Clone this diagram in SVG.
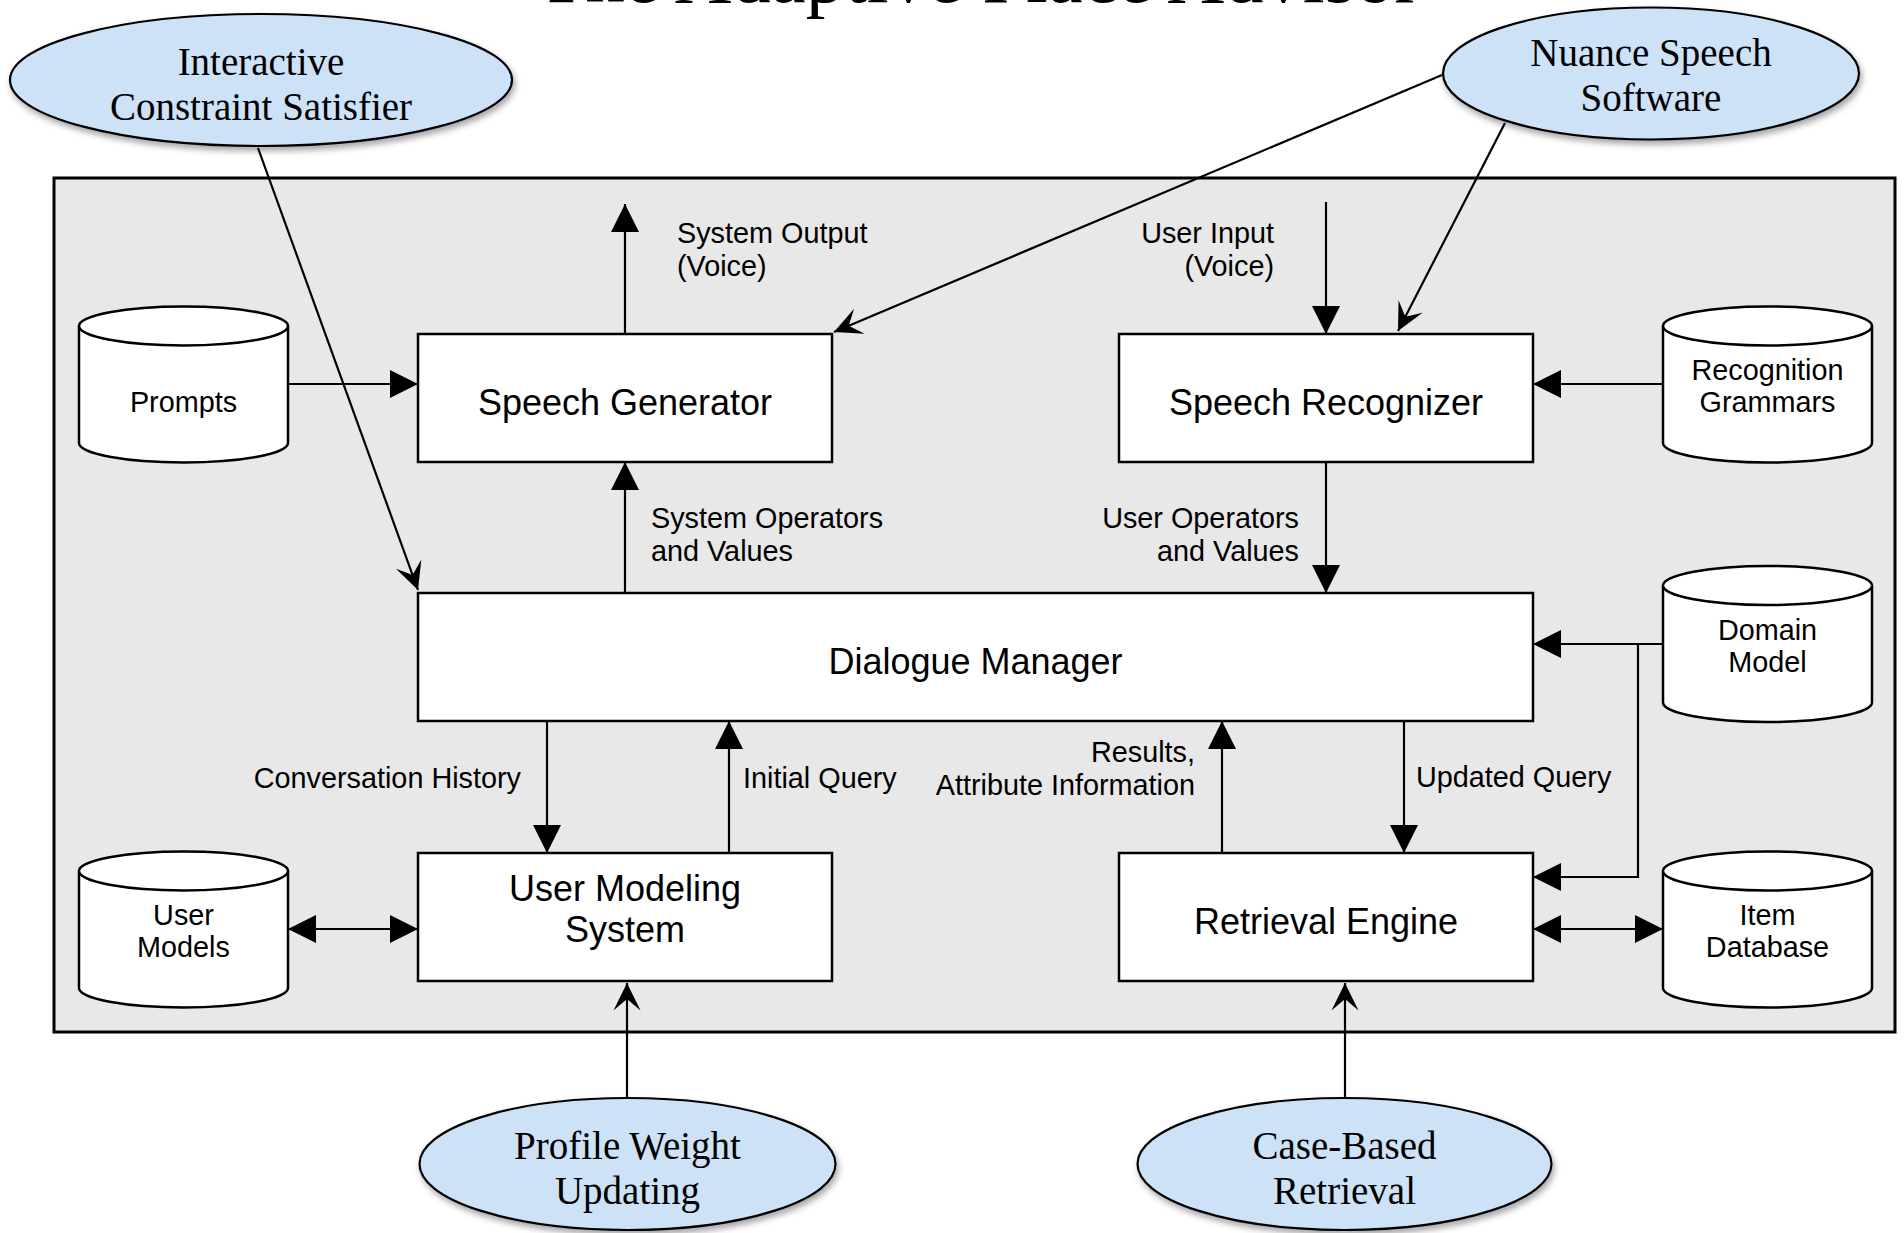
<svg xmlns="http://www.w3.org/2000/svg" width="1904" height="1233" viewBox="0 0 1904 1233">
<defs>
<style>
.box{fill:#ffffff;stroke:#000;stroke-width:2.5}
.cyl{fill:#ffffff;stroke:#000;stroke-width:2.5}
.ell{fill:#cde1f7;stroke:#000;stroke-width:2.2}
.frame{fill:#e8e8e8;stroke:#000;stroke-width:3}
.lbl{font-family:"Liberation Sans",Arial,sans-serif;font-size:28.8px;fill:#000}
.big{font-family:"Liberation Sans",Arial,sans-serif;font-size:36px;fill:#000;text-anchor:middle}
.ser{font-family:"Liberation Serif","Times New Roman",serif;font-size:39px;fill:#000;text-anchor:middle}
.mid{text-anchor:middle}
.end{text-anchor:end}
.con{fill:none;stroke:#000;stroke-width:2.2}
.fa{marker-end:url(#fill)}
.fb{marker-start:url(#fill);marker-end:url(#fill)}
.st{marker-end:url(#stealth)}
</style>
<marker id="fill" viewBox="-28 -14 28 28" refX="0" refY="0" markerWidth="28" markerHeight="28" markerUnits="userSpaceOnUse" orient="auto-start-reverse">
<path d="M0,0 L-28,-14 L-28,14 Z" fill="#000"/>
</marker>
<marker id="stealth" viewBox="-30 -15 31 30" refX="0" refY="0" markerWidth="31" markerHeight="30" markerUnits="userSpaceOnUse" orient="auto">
<path d="M0,0 L-27.5,-13.5 L-16,0 L-27.5,13.5 Z" fill="#000"/>
</marker>
<filter id="sh" x="-10%" y="-10%" width="125%" height="135%">
<feDropShadow dx="2" dy="4" stdDeviation="3" flood-color="#000" flood-opacity="0.35"/>
</filter>
</defs>
<rect width="1904" height="1233" fill="#ffffff"/>
<text x="979" y="2" font-family="Liberation Serif, Times New Roman, serif" font-size="78.5" text-anchor="middle" fill="#000">The Adaptive Place Advisor</text>
<rect id="frame" class="frame" x="54" y="178" width="1841" height="854"/>

<g id="connectors">
<path class="con fa" d="M625,334 V204"/>
<path class="con fa" d="M288,384 H418"/>
<path class="con fa" d="M625,593 V462"/>
<path class="con st" d="M258,148 L418,590"/>
<path class="con st" d="M1442,75 L834,332"/>
<path class="con st" d="M1505,123 L1398,331"/>
<path class="con fa" d="M1326,202 V334"/>
<path class="con fa" d="M1326,462 V593"/>
<path class="con fa" d="M1663,384 H1533"/>
<path class="con fa" d="M1663,644 H1533"/>
<path class="con fa" d="M1638,644 V877 H1533"/>
<path class="con fa" d="M547,721 V853"/>
<path class="con fa" d="M729,853 V721"/>
<path class="con fb" d="M288,929 H418"/>
<path class="con fa" d="M1222,853 V721"/>
<path class="con fa" d="M1404,721 V853"/>
<path class="con fb" d="M1533,929 H1663"/>
<path class="con st" d="M627,1098 V983"/>
<path class="con st" d="M1345,1098 V983"/>
</g>

<g id="labels">
<text class="lbl" x="677" y="243">System Output</text>
<text class="lbl" x="677" y="276">(Voice)</text>
<text class="lbl end" x="1274" y="243">User Input</text>
<text class="lbl end" x="1274" y="276">(Voice)</text>
<text class="lbl" x="651" y="528">System Operators</text>
<text class="lbl" x="651" y="561">and Values</text>
<text class="lbl end" x="1299" y="528">User Operators</text>
<text class="lbl end" x="1299" y="561">and Values</text>
<text class="lbl end" x="521" y="788">Conversation History</text>
<text class="lbl" x="743" y="788">Initial Query</text>
<text class="lbl end" x="1195" y="762">Results,</text>
<text class="lbl end" x="1195" y="795">Attribute Information</text>
<text class="lbl" x="1416" y="787">Updated Query</text>
</g>

<g id="ics" filter="url(#sh)">
<ellipse class="ell" cx="261" cy="80" rx="251" ry="66"/>
</g>
<g id="ics-text"><text class="ser" x="261" y="75">Interactive</text><text class="ser" x="261" y="120">Constraint Satisfier</text></g>

<g id="nuance" filter="url(#sh)">
<ellipse class="ell" cx="1651" cy="73.5" rx="208" ry="66"/>
</g>
<g id="nuance-text"><text class="ser" x="1651" y="66">Nuance Speech</text><text class="ser" x="1651" y="111">Software</text></g>

<g id="profile" filter="url(#sh)">
<ellipse class="ell" cx="627.5" cy="1164" rx="208" ry="66"/>
</g>
<g id="profile-text"><text class="ser" x="627.5" y="1159">Profile Weight</text><text class="ser" x="627.5" y="1204">Updating</text></g>

<g id="cbr" filter="url(#sh)">
<ellipse class="ell" cx="1344.5" cy="1164" rx="207" ry="66"/>
</g>
<g id="cbr-text"><text class="ser" x="1344.5" y="1159">Case-Based</text><text class="ser" x="1344.5" y="1204">Retrieval</text></g>

<g id="speech-generator">
<rect class="box" x="418" y="334" width="414" height="128"/>
<text class="big" x="625" y="415">Speech Generator</text>
</g>
<g id="speech-recognizer">
<rect class="box" x="1119" y="334" width="414" height="128"/>
<text class="big" x="1326" y="415">Speech Recognizer</text>
</g>
<g id="dialogue-manager">
<rect class="box" x="418" y="593" width="1115" height="128"/>
<text class="big" x="975.5" y="674">Dialogue Manager</text>
</g>
<g id="user-modeling">
<rect class="box" x="418" y="853" width="414" height="128"/>
<text class="big" x="625" y="901">User Modeling</text>
<text class="big" x="625" y="942">System</text>
</g>
<g id="retrieval-engine">
<rect class="box" x="1119" y="853" width="414" height="128"/>
<text class="big" x="1326" y="934">Retrieval Engine</text>
</g>

<g id="prompts">
<path class="cyl" d="M79,326 a104.5,19.5 0 0 1 209,0 v117 a104.5,19.5 0 0 1 -209,0 Z"/>
<path class="cyl" d="M79,326 a104.5,19.5 0 0 0 209,0"/>
<text class="lbl mid" x="183.5" y="412">Prompts</text>
</g>
<g id="recognition-grammars">
<path class="cyl" d="M1663,326 a104.5,19.5 0 0 1 209,0 v117 a104.5,19.5 0 0 1 -209,0 Z"/>
<path class="cyl" d="M1663,326 a104.5,19.5 0 0 0 209,0"/>
<text class="lbl mid" x="1767.5" y="380">Recognition</text>
<text class="lbl mid" x="1767.5" y="412">Grammars</text>
</g>
<g id="domain-model">
<path class="cyl" d="M1663,585.5 a104.5,19.5 0 0 1 209,0 v117 a104.5,19.5 0 0 1 -209,0 Z"/>
<path class="cyl" d="M1663,585.5 a104.5,19.5 0 0 0 209,0"/>
<text class="lbl mid" x="1767.5" y="640">Domain</text>
<text class="lbl mid" x="1767.5" y="672">Model</text>
</g>
<g id="user-models">
<path class="cyl" d="M79,871 a104.5,19.5 0 0 1 209,0 v117 a104.5,19.5 0 0 1 -209,0 Z"/>
<path class="cyl" d="M79,871 a104.5,19.5 0 0 0 209,0"/>
<text class="lbl mid" x="183.5" y="925">User</text>
<text class="lbl mid" x="183.5" y="957">Models</text>
</g>
<g id="item-database">
<path class="cyl" d="M1663,871 a104.5,19.5 0 0 1 209,0 v117 a104.5,19.5 0 0 1 -209,0 Z"/>
<path class="cyl" d="M1663,871 a104.5,19.5 0 0 0 209,0"/>
<text class="lbl mid" x="1767.5" y="925">Item</text>
<text class="lbl mid" x="1767.5" y="957">Database</text>
</g>
</svg>
